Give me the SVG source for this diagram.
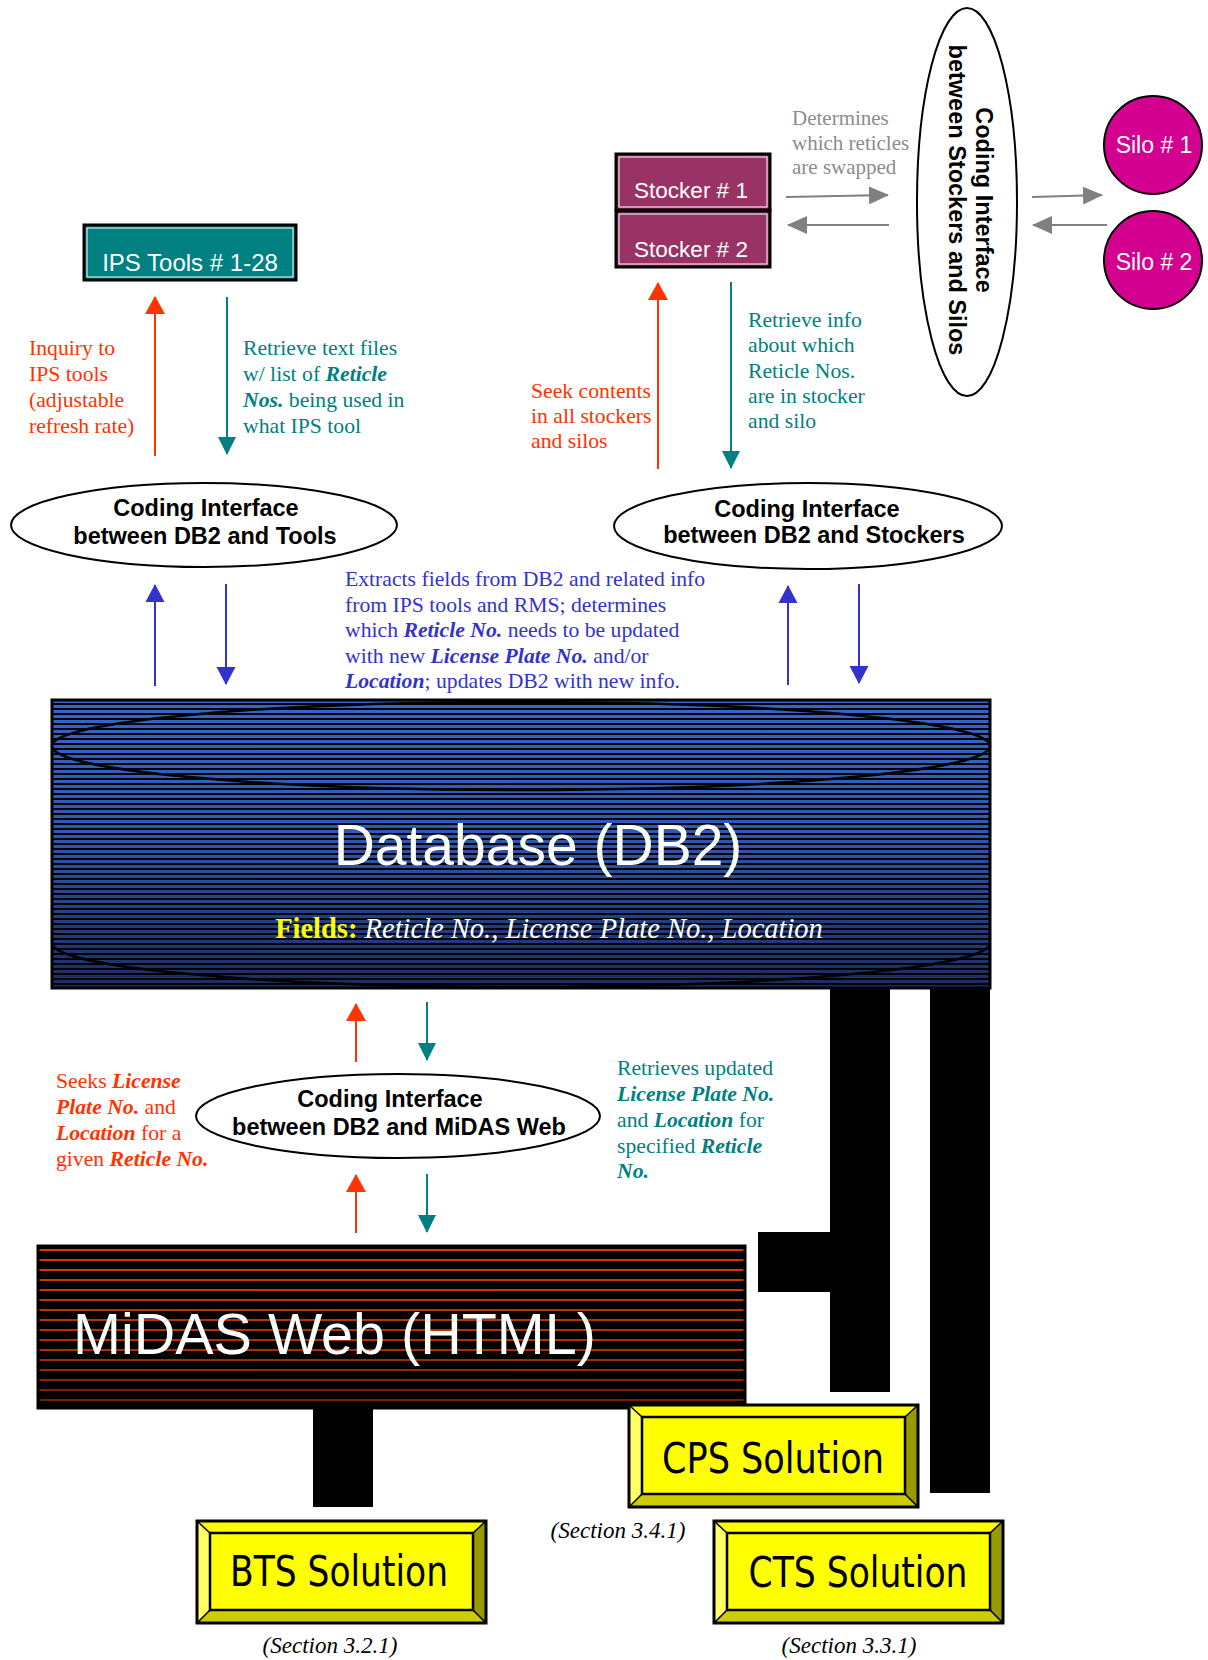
<svg xmlns="http://www.w3.org/2000/svg" xmlns:xlink="http://www.w3.org/1999/xlink" width="1208" height="1660" viewBox="0 0 1208 1660">
<defs>
<style>
.lbl{font-family:"Liberation Serif","Times New Roman",serif;font-size:21.7px}
.bi{font-weight:bold;font-style:italic}
.red{fill:#ff3300}.teal{fill:#008080}.blue{fill:#3333cc}.grey{fill:#8c8c8c;font-size:21px}
.ci{font-family:"Liberation Sans",Arial,sans-serif;font-weight:bold;font-size:23.5px;fill:#000;text-anchor:middle}
.bx{font-family:"Liberation Sans",Arial,sans-serif;font-size:22.5px;fill:#fff;text-anchor:middle}
.ell{fill:#fff;stroke:#000;stroke-width:2}
.sol{font-family:"DejaVu Sans Condensed","Liberation Sans Narrow",sans-serif;font-size:42px;fill:#000;text-anchor:middle}
.sec{font-family:"Liberation Serif","Times New Roman",serif;font-style:italic;font-size:23px;fill:#000;text-anchor:middle}
.a{fill:none;stroke-width:2}
.ar{stroke:#ff3300;marker-end:url(#mRed)}
.at{stroke:#008080;marker-end:url(#mTeal)}
.ab{stroke:#3333cc;marker-end:url(#mBlue)}
.ag{stroke:#808080;marker-end:url(#mGrey)}
.bar{fill:#000}
</style>
<marker id="mRed" markerUnits="userSpaceOnUse" markerWidth="18" markerHeight="20" viewBox="0 0 18 20" refX="17" refY="10" orient="auto"><path d="M0,0 L18,10 L0,20 z" fill="#ff3300"/></marker>
<marker id="mTeal" markerUnits="userSpaceOnUse" markerWidth="18" markerHeight="20" viewBox="0 0 18 20" refX="17" refY="10" orient="auto"><path d="M0,1 L18,10 L0,19 z" fill="#008080"/></marker>
<marker id="mBlue" markerUnits="userSpaceOnUse" markerWidth="18" markerHeight="20" viewBox="0 0 18 20" refX="17" refY="10" orient="auto"><path d="M0,0.5 L18,10 L0,19.5 z" fill="#3333cc"/></marker>
<marker id="mGrey" markerUnits="userSpaceOnUse" markerWidth="20" markerHeight="18" viewBox="0 0 20 18" refX="19" refY="9" orient="auto"><path d="M0,0 L20,9 L0,18 z" fill="#808080"/></marker>
<linearGradient id="gBlue" x1="0" y1="0" x2="0" y2="1">
<stop offset="0" stop-color="#3366cc"/><stop offset="0.45" stop-color="#2d5ab8"/><stop offset="1" stop-color="#1a2c60"/>
</linearGradient>
<linearGradient id="gRed" x1="0" y1="0" x2="0" y2="1">
<stop offset="0" stop-color="#d83a00"/><stop offset="0.6" stop-color="#b32e00"/><stop offset="1" stop-color="#6e1a00"/>
</linearGradient>
<pattern id="pDB" patternUnits="userSpaceOnUse" x="0" y="700" width="1208" height="5"><rect y="3" width="1208" height="2" fill="#000"/></pattern>
<pattern id="pMid" patternUnits="userSpaceOnUse" x="0" y="1249" width="1208" height="10"><rect y="2" width="1208" height="8" fill="#000"/></pattern>
<g id="bevel">
<polygon points="0,0 289,0 276,12 13,12" fill="#ffff00"/>
<polygon points="0,0 13,12 13,89 0,102" fill="#ffff66"/>
<polygon points="289,0 289,102 276,89 276,12" fill="#999900"/>
<polygon points="0,102 13,89 276,89 289,102" fill="#cccc00"/>
<rect x="13" y="12" width="263" height="77" fill="#ffff00" stroke="#000" stroke-width="2.5"/>
<path d="M0,0 L13,12 M289,0 L276,12 M0,102 L13,89 M289,102 L276,89" stroke="#000" stroke-width="1.5"/>
<rect x="0" y="0" width="289" height="102" fill="none" stroke="#000" stroke-width="3"/>
</g>
</defs>
<rect width="1208" height="1660" fill="#fff"/>

<g id="connectors">
<line class="a ar" x1="155" y1="456" x2="155" y2="297"/>
<line class="a at" x1="227" y1="297" x2="227" y2="454"/>
<line class="a ar" x1="658" y1="469" x2="658" y2="283"/>
<line class="a at" x1="731" y1="282" x2="731" y2="468"/>
<line class="a ag" x1="786" y1="197" x2="888" y2="195"/>
<line class="a ag" x1="889" y1="225" x2="788" y2="225"/>
<line class="a ag" x1="1032" y1="197" x2="1102" y2="195"/>
<line class="a ag" x1="1107" y1="225" x2="1033" y2="225"/>
<line class="a ab" x1="155" y1="686" x2="155" y2="585"/>
<line class="a ab" x1="226" y1="584" x2="226" y2="684"/>
<line class="a ab" x1="788" y1="685" x2="788" y2="586"/>
<line class="a ab" x1="859" y1="584" x2="859" y2="683"/>
<line class="a ar" x1="356" y1="1062" x2="356" y2="1004"/>
<line class="a at" x1="427" y1="1002" x2="427" y2="1060"/>
<line class="a ar" x1="356" y1="1233" x2="356" y2="1175"/>
<line class="a at" x1="427" y1="1174" x2="427" y2="1232"/>
<rect class="bar" x="830" y="988" width="60" height="404"/>
<rect class="bar" x="758" y="1232" width="73" height="60"/>
<rect class="bar" x="930" y="988" width="60" height="505"/>
<rect class="bar" x="313" y="1407" width="60" height="100"/>
</g>

<g id="ips-tools">
<rect x="84" y="225" width="212" height="55" fill="#008080" stroke="#000" stroke-width="3"/>
<rect x="87" y="228" width="206" height="49" fill="none" stroke="#fff" stroke-width="1"/>
<text class="bx" x="190" y="271" style="font-size:24px">IPS Tools # 1-28</text>
</g>

<g id="stocker1">
<rect x="616" y="154" width="154" height="56" fill="#993366" stroke="#000" stroke-width="3"/>
<rect x="619" y="157" width="148" height="50" fill="none" stroke="#fff" stroke-width="1"/>
<text class="bx" x="691" y="198">Stocker # 1</text>
</g>
<g id="stocker2">
<rect x="616" y="211" width="154" height="56" fill="#993366" stroke="#000" stroke-width="3"/>
<rect x="619" y="214" width="148" height="50" fill="none" stroke="#fff" stroke-width="1"/>
<text class="bx" x="691" y="257">Stocker # 2</text>
</g>

<g id="ci-stockers-silos">
<ellipse class="ell" cx="967" cy="202" rx="50" ry="194"/>
<text class="ci" transform="translate(967,200) rotate(90)"><tspan x="0" y="-9">Coding Interface</tspan><tspan x="0" y="18">between Stockers and Silos</tspan></text>
</g>

<g id="silo1">
<circle cx="1153" cy="145" r="49" fill="#d4008f" stroke="#000" stroke-width="2"/>
<text class="bx" x="1154" y="153" style="font-size:23px">Silo # 1</text>
</g>
<g id="silo2">
<circle cx="1153" cy="260" r="49" fill="#d4008f" stroke="#000" stroke-width="2"/>
<text class="bx" x="1154" y="270" style="font-size:23px">Silo # 2</text>
</g>

<g id="ci-tools">
<ellipse class="ell" cx="204" cy="525" rx="193" ry="42"/>
<text class="ci"><tspan x="206" y="516">Coding Interface</tspan><tspan x="205" y="544">between DB2 and Tools</tspan></text>
</g>

<g id="ci-stockers">
<ellipse class="ell" cx="808" cy="526" rx="194" ry="43"/>
<text class="ci"><tspan x="807" y="517">Coding Interface</tspan><tspan x="814" y="543">between DB2 and Stockers</tspan></text>
</g>

<g id="ci-midas">
<ellipse class="ell" cx="398" cy="1116" rx="202" ry="42"/>
<text class="ci"><tspan x="390" y="1107">Coding Interface</tspan><tspan x="399" y="1135">between DB2 and MiDAS Web</tspan></text>
</g>

<g id="db2">
<rect x="52" y="700" width="938" height="288" fill="url(#gBlue)"/>
<rect x="52" y="700" width="938" height="288" fill="url(#pDB)"/>
<ellipse cx="521" cy="746" rx="469" ry="44" fill="none" stroke="#000" stroke-width="2.5"/>
<path d="M52,943 A469,44 0 0 0 990,943" fill="none" stroke="#000" stroke-width="2.5"/>
<rect x="52" y="700" width="938" height="288" fill="none" stroke="#000" stroke-width="3"/>
<text x="538" y="865" text-anchor="middle" style="font-family:'Liberation Sans',Arial,sans-serif;font-size:57px;fill:#fff">Database (DB2)</text>
<text x="549" y="938" text-anchor="middle" style="font-family:'Liberation Serif','Times New Roman',serif;font-size:28.5px"><tspan fill="#ffff00" font-weight="bold">Fields:</tspan><tspan fill="#fff" font-style="italic"> Reticle No., License Plate No., Location</tspan></text>
</g>

<g id="midas-web">
<rect x="38" y="1246" width="707" height="162" fill="url(#gRed)"/>
<rect x="38" y="1246" width="707" height="162" fill="url(#pMid)"/>
<rect x="38" y="1246" width="707" height="162" fill="none" stroke="#000" stroke-width="3"/>
<text x="73" y="1354" style="font-family:'Liberation Sans',Arial,sans-serif;font-size:57.5px;fill:#fff">MiDAS Web (HTML)</text>
</g>

<g id="cps">
<use xlink:href="#bevel" x="629" y="1405"/>
<text class="sol" x="773" y="1473" textLength="222" lengthAdjust="spacingAndGlyphs">CPS Solution</text>
</g>
<g id="bts">
<use xlink:href="#bevel" x="197" y="1521"/>
<text class="sol" x="339" y="1586" textLength="218" lengthAdjust="spacingAndGlyphs">BTS Solution</text>
</g>
<g id="cts">
<use xlink:href="#bevel" x="714" y="1521"/>
<text class="sol" x="858" y="1587" textLength="219" lengthAdjust="spacingAndGlyphs">CTS Solution</text>
</g>

<g id="labels">
<text class="lbl red"><tspan x="29" y="355">Inquiry to</tspan><tspan x="29" y="381">IPS tools</tspan><tspan x="29" y="407">(adjustable</tspan><tspan x="29" y="433">refresh rate)</tspan></text>
<text class="lbl teal"><tspan x="243" y="355">Retrieve text files</tspan><tspan x="243" y="381">w/ list of <tspan class="bi">Reticle</tspan></tspan><tspan x="243" y="407"><tspan class="bi">Nos.</tspan> being used in</tspan><tspan x="243" y="433">what IPS tool</tspan></text>
<text class="lbl grey"><tspan x="792" y="125">Determines</tspan><tspan x="792" y="150">which reticles</tspan><tspan x="792" y="174">are swapped</tspan></text>
<text class="lbl red"><tspan x="531" y="398">Seek contents</tspan><tspan x="531" y="423">in all stockers</tspan><tspan x="531" y="448">and silos</tspan></text>
<text class="lbl teal"><tspan x="748" y="327">Retrieve info</tspan><tspan x="748" y="352">about which</tspan><tspan x="748" y="378">Reticle Nos.</tspan><tspan x="748" y="403">are in stocker</tspan><tspan x="748" y="428">and silo</tspan></text>
<text class="lbl blue"><tspan x="345" y="586">Extracts fields from DB2 and related info</tspan><tspan x="345" y="612">from IPS tools and RMS; determines</tspan><tspan x="345" y="637">which <tspan class="bi">Reticle No.</tspan> needs to be updated</tspan><tspan x="345" y="663">with new <tspan class="bi">License Plate No.</tspan> and/or</tspan><tspan x="345" y="688"><tspan class="bi">Location</tspan>; updates DB2 with new info.</tspan></text>
<text class="lbl red"><tspan x="56" y="1088">Seeks <tspan class="bi">License</tspan></tspan><tspan x="56" y="1114"><tspan class="bi">Plate No.</tspan> and</tspan><tspan x="56" y="1140"><tspan class="bi">Location</tspan> for a</tspan><tspan x="56" y="1166">given <tspan class="bi">Reticle No.</tspan></tspan></text>
<text class="lbl teal"><tspan x="617" y="1075">Retrieves updated</tspan><tspan x="617" y="1101"><tspan class="bi">License Plate No.</tspan></tspan><tspan x="617" y="1127">and <tspan class="bi">Location</tspan> for</tspan><tspan x="617" y="1153">specified <tspan class="bi">Reticle</tspan></tspan><tspan x="617" y="1178"><tspan class="bi">No.</tspan></tspan></text>
<text class="sec" x="618" y="1538">(Section 3.4.1)</text>
<text class="sec" x="330" y="1653">(Section 3.2.1)</text>
<text class="sec" x="849" y="1653">(Section 3.3.1)</text>
</g>
</svg>
